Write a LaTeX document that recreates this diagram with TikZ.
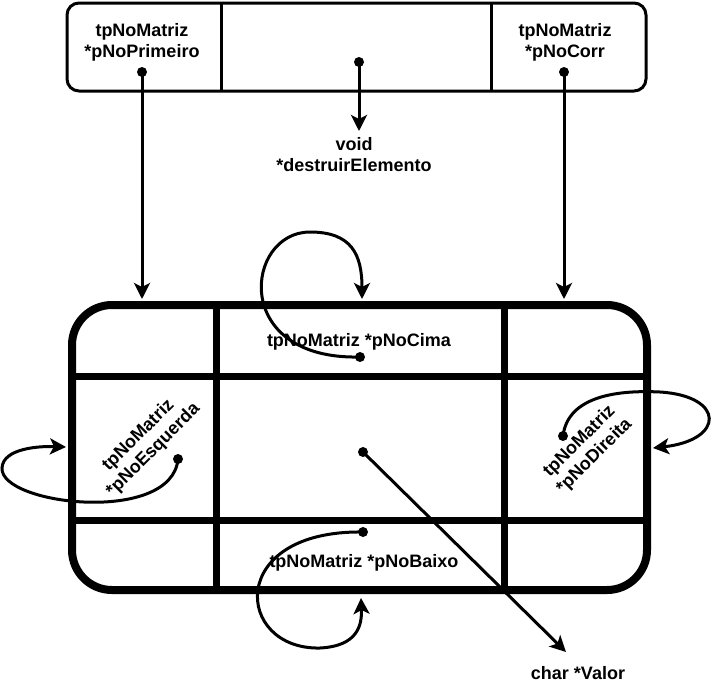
\documentclass[tikz,border=0pt]{standalone}
\usepackage{fontspec}
\setmainfont{Liberation Sans}
\usetikzlibrary{shapes, arrows.meta}
\tikzstyle{estrutura} = [rounded corners=9pt, draw=black, line width=2.25pt]
\tikzstyle{divisoria} = [draw=black, line width=2.25pt]
\tikzstyle{matriz} = [rounded corners=30pt, draw=black, line width=6pt]
\tikzstyle{grade} = [draw=black, line width=5.25pt]
\tikzstyle{rotulo} = [font=\bfseries\fontsize{13.5}{15.75}\selectfont, align=center, text=black, inner sep=0pt]
\tikzstyle{ponto} = [circle, fill=black, inner sep=0pt, minimum size=7.5pt]
\tikzstyle{arrow} = [line width=2.25pt, -{Stealth[length=12pt, width=12pt, inset=3pt]}]

\begin{document}
\begin{tikzpicture}[x=0.75pt, y=-0.75pt]
    \useasboundingbox (0,0) rectangle (714,697);

    % estrutura da matriz
    \draw [estrutura] (67,3) rectangle (646,91);
    \draw [divisoria] (221,3) -- (221,91);
    \draw [divisoria] (491,3) -- (491,91);
    \node (primeiro) [rotulo] at (142,42) {tpNoMatriz\\*pNoPrimeiro};
    \node (corr) [rotulo] at (565,42) {tpNoMatriz\\*pNoCorr};
    \node (pprimeiro) [ponto] at (142,72) {};
    \node (pdestruir) [ponto] at (359,62) {};
    \node (pcorr) [ponto] at (564,72) {};
    \node (destruir) [rotulo] at (354,155) {void\\*destruirElemento};

    % no da matriz
    \draw [grade] (72,376) -- (647,376);
    \draw [grade] (72,520) -- (647,520);
    \draw [grade] (216,305) -- (216,590);
    \draw [grade] (504,305) -- (504,590);
    \draw [matriz] (72,305) rectangle (647,590);

    \node (cima) [rotulo] at (359,342) {tpNoMatriz *pNoCima};
    \node (baixo) [rotulo] at (364,563) {tpNoMatriz *pNoBaixo};
    \node (esquerda) [rotulo, rotate=45] at (146,443) {tpNoMatriz\\*pNoEsquerda};
    \node (direita) [rotulo, rotate=45] at (587,449) {tpNoMatriz\\*pNoDireita};
    \node (valor) [rotulo] at (578,673) {char *Valor};

    \node (pcima) [ponto] at (360,357) {};
    \node (pbaixo) [ponto] at (363,532) {};
    \node (pesquerda) [ponto] at (178,459) {};
    \node (pdireita) [ponto] at (563,436) {};
    \node (pvalor) [ponto] at (363,452) {};

    \coordinate (fimprimeiro) at (142,299);
    \coordinate (fimcorr) at (564,299);
    \coordinate (fimdestruir) at (359,131);
    \coordinate (fimcima) at (362,299);
    \coordinate (fimbaixo) at (361,598);
    \coordinate (fimesquerda) at (66,447);
    \coordinate (fimdireita) at (653,448);
    \coordinate (fimvalor) at (566,652);

    \draw [arrow] (pprimeiro.center) -- (fimprimeiro);
    \draw [arrow] (pdestruir.center) -- (fimdestruir);
    \draw [arrow] (pcorr.center) -- (fimcorr);
    \draw [arrow] (pvalor.center) -- (fimvalor);
    \draw [arrow] (pcima.center) .. controls (230,360) and (245,232) .. (310,232) .. controls (352,232) and (362,255) .. (fimcima);
    \draw [arrow] (pbaixo.center) .. controls (225,530) and (235,650) .. (320,648) .. controls (358,646) and (362,625) .. (fimbaixo);
    \draw [arrow] (pesquerda.center) .. controls (172,525) and (0,505) .. (2,468) .. controls (3,448) and (40,446) .. (fimesquerda);
    \draw [arrow] (pdireita.center) .. controls (568,395) and (620,390) .. (660,392) .. controls (725,396) and (725,440) .. (fimdireita);

    \end{tikzpicture}
\end{document}
